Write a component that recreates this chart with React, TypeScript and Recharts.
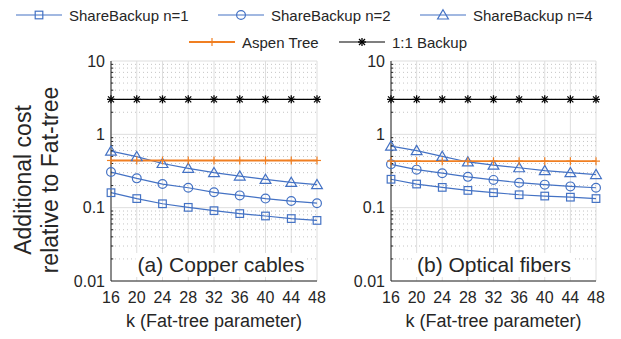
import React from 'react';
import { LineChart, Line, XAxis, YAxis, CartesianGrid, ReferenceLine } from 'recharts';

const BLUE = '#4472C4';
const ORANGE = '#F07F22';
const INK = '#262626';

// k values (x axis) and tick labels
const K = [16, 20, 24, 28, 32, 36, 40, 44, 48];
const Y_TICKS = [0.01, 0.1, 1, 10];
const Y_MINOR = [0.02, 0.03, 0.04, 0.05, 0.06, 0.07, 0.08, 0.09, 0.2, 0.3, 0.4, 0.5, 0.6, 0.7, 0.8, 0.9, 2, 3, 4, 5, 6, 7, 8, 9];

// (a) copper cables
const COPPER_N1 = [0.16, 0.133, 0.113, 0.101, 0.091, 0.083, 0.077, 0.071, 0.067];
const COPPER_N2 = [0.306, 0.251, 0.21, 0.187, 0.162, 0.147, 0.133, 0.123, 0.115];
const COPPER_N4 = [0.59, 0.496, 0.4, 0.344, 0.3, 0.27, 0.243, 0.221, 0.206];
const COPPER_ASPEN = [0.44, 0.44, 0.44, 0.44, 0.44, 0.44, 0.44, 0.44, 0.44];
const COPPER_BACKUP = [3, 3, 3, 3, 3, 3, 3, 3, 3];

// (b) optical fibers
const OPTICAL_N1 = [0.244, 0.21, 0.189, 0.172, 0.16, 0.15, 0.144, 0.139, 0.133];
const OPTICAL_N2 = [0.39, 0.33, 0.295, 0.263, 0.239, 0.219, 0.206, 0.195, 0.187];
const OPTICAL_N4 = [0.69, 0.6, 0.5, 0.42, 0.38, 0.35, 0.32, 0.3, 0.283];
const OPTICAL_ASPEN = [0.43, 0.43, 0.43, 0.43, 0.43, 0.43, 0.43, 0.43, 0.43];
const OPTICAL_BACKUP = [3, 3, 3, 3, 3, 3, 3, 3, 3];

const buildRows = (n1: number[], n2: number[], n4: number[], aspen: number[], backup: number[]) =>
  K.map((k, i) => ({ k, n1: n1[i], n2: n2[i], n4: n4[i], aspen: aspen[i], backup: backup[i] }));

const copperRows = buildRows(COPPER_N1, COPPER_N2, COPPER_N4, COPPER_ASPEN, COPPER_BACKUP);
const opticalRows = buildRows(OPTICAL_N1, OPTICAL_N2, OPTICAL_N4, OPTICAL_ASPEN, OPTICAL_BACKUP);

// marker shapes, shared by lines and legend
const marker = (kind: string, cx: number, cy: number, key?: any) => {
  switch (kind) {
    case 'square':
      return <rect key={key} x={cx - 3.8} y={cy - 3.8} width={7.6} height={7.6} fill="none" stroke={BLUE} strokeWidth={1.2} />;
    case 'circle':
      return <circle key={key} cx={cx} cy={cy} r={4.4} fill="none" stroke={BLUE} strokeWidth={1.2} />;
    case 'triangle':
      return <polygon key={key} points={`${cx},${cy - 5.2} ${cx + 5.4},${cy + 4} ${cx - 5.4},${cy + 4}`} fill="none" stroke={BLUE} strokeWidth={1.2} />;
    case 'plus':
      return (
        <g key={key} stroke={ORANGE} strokeWidth={1.2}>
          <line x1={cx - 4} y1={cy} x2={cx + 4} y2={cy} />
          <line x1={cx} y1={cy - 4} x2={cx} y2={cy + 4} />
        </g>
      );
    default:
      return (
        <g key={key} stroke="#000" strokeWidth={1.3}>
          <line x1={cx - 4} y1={cy} x2={cx + 4} y2={cy} />
          <line x1={cx} y1={cy - 4} x2={cx} y2={cy + 4} />
          <line x1={cx - 3} y1={cy - 3} x2={cx + 3} y2={cy + 3} />
          <line x1={cx - 3} y1={cy + 3} x2={cx + 3} y2={cy - 3} />
        </g>
      );
  }
};

const dotOf = (kind: string) => (p: any) => marker(kind, p.cx, p.cy, `${kind}-${p.index}`);

function Panel({ rows, left, width, marginLeft, marginRight, caption, captionX }: any) {
  return (
    <div style={{ position: 'absolute', left, top: 0 }}>
      <LineChart width={width} height={339} data={rows} margin={{ top: 61, right: marginRight, bottom: 28, left: marginLeft }}>
        <CartesianGrid stroke="#dedede" strokeWidth={1} />
        {Y_MINOR.map(v => (
          <ReferenceLine key={`m${v}`} y={v} stroke="#c4c4c4" strokeDasharray="1 3" />
        ))}
        {Y_MINOR.map(v => (
          <ReferenceLine key={`t${v}`} segment={[{ x: 16, y: v }, { x: 16.35, y: v }]} stroke={INK} />
        ))}
        <XAxis
          type="number"
          dataKey="k"
          domain={[16, 48]}
          ticks={K}
          interval={0}
          tickLine={false}
          tickMargin={5}
          height={30}
          axisLine={{ stroke: INK }}
          tick={{ fill: INK, fontSize: 16 }}
          label={{ value: 'k (Fat-tree parameter)', position: 'bottom', offset: 3, fill: INK, fontSize: 18 }}
        />
        <YAxis
          scale="log"
          domain={[0.01, 10]}
          ticks={Y_TICKS}
          allowDataOverflow
          width={40}
          tickLine={false}
          tickMargin={0}
          axisLine={{ stroke: INK }}
          tick={{ fill: INK, fontSize: 16 }}
          tickFormatter={(v: number) => String(v)}
        />
        <Line dataKey="n1" stroke={BLUE} strokeWidth={1.2} dot={dotOf('square')} isAnimationActive={false} />
        <Line dataKey="n2" stroke={BLUE} strokeWidth={1.2} dot={dotOf('circle')} isAnimationActive={false} />
        <Line dataKey="n4" stroke={BLUE} strokeWidth={1.2} dot={dotOf('triangle')} isAnimationActive={false} />
        <Line dataKey="aspen" stroke={ORANGE} strokeWidth={1.8} dot={dotOf('plus')} isAnimationActive={false} />
        <Line dataKey="backup" stroke="#000" strokeWidth={1.3} dot={dotOf('star')} isAnimationActive={false} />
      </LineChart>
      <div
        style={{
          position: 'absolute', left: captionX, top: 253, transform: 'translateX(-50%)',
          background: '#fff', fontSize: 21, lineHeight: '24px', padding: '0 2px', color: INK, whiteSpace: 'nowrap',
        }}
      >
        {caption}
      </div>
    </div>
  );
}

const LEGEND = [
  { label: 'ShareBackup n=1', kind: 'square', color: BLUE, x: 16, y: 15 },
  { label: 'ShareBackup n=2', kind: 'circle', color: BLUE, x: 218, y: 15 },
  { label: 'ShareBackup n=4', kind: 'triangle', color: BLUE, x: 420, y: 15 },
  { label: 'Aspen Tree', kind: 'plus', color: ORANGE, x: 189, y: 42 },
  { label: '1:1 Backup', kind: 'star', color: '#000', x: 339, y: 42 },
];

export default function App() {
  return (
    <div
      style={{
        position: 'absolute', left: 0, top: 0, width: 621, height: 339, background: '#fff', overflow: 'hidden',
        fontFamily: '"Liberation Sans", Arial, Helvetica, sans-serif', color: INK,
      }}
    >
      <Panel rows={copperRows} left={0} width={330} marginLeft={71} marginRight={13} caption="(a) Copper cables" captionX={221} />
      <Panel rows={opticalRows} left={330} width={291} marginLeft={21} marginRight={25} caption="(b) Optical fibers" captionX={164} />

      <svg width={621} height={60} style={{ position: 'absolute', left: 0, top: 0 }}>
        {LEGEND.map(item => (
          <g key={item.label}>
            <line x1={item.x} y1={item.y} x2={item.x + 46} y2={item.y} stroke={item.color} strokeWidth={item.kind === 'plus' ? 1.8 : 1.2} />
            {marker(item.kind, item.x + 23, item.y)}
            <text x={item.x + 53} y={item.y} dominantBaseline="central" fontSize={15} fill={INK}>
              {item.label}
            </text>
          </g>
        ))}
      </svg>

      <svg width={70} height={339} style={{ position: 'absolute', left: 0, top: 0 }}>
        <text transform="translate(23,180) rotate(-90)" textAnchor="middle" dominantBaseline="central" fontSize={23} fill={INK}>
          Additional cost
        </text>
        <text transform="translate(50,180) rotate(-90)" textAnchor="middle" dominantBaseline="central" fontSize={23} fill={INK}>
          relative to Fat-tree
        </text>
      </svg>
    </div>
  );
}
